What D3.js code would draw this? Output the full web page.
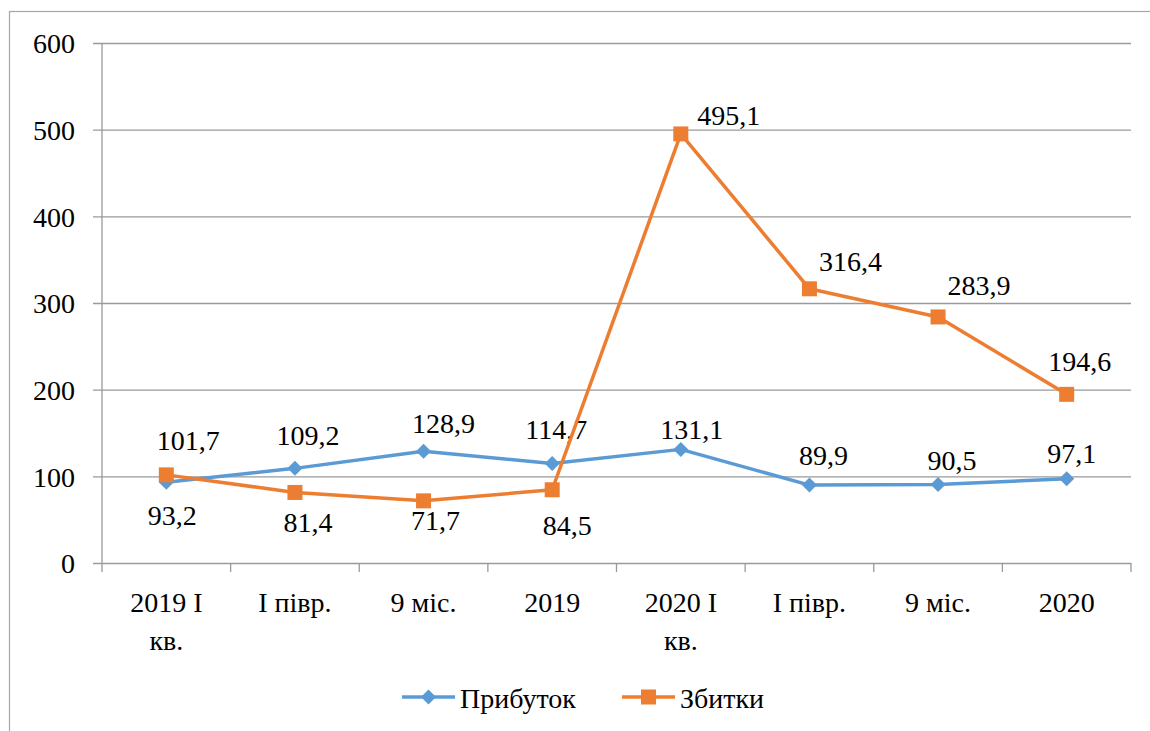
<!DOCTYPE html>
<html>
<head>
<meta charset="utf-8">
<script src="https://cdn.jsdelivr.net/npm/d3@7"></script>
<style>
  html, body { margin: 0; padding: 0; background: #fff; }
  svg { display: block; }
  svg text { font-family: 'Liberation Serif', 'DejaVu Serif', 'Times New Roman', Times, serif !important; fill: #000; }
</style>
</head>
<body>
<svg id="chart" width="1150" height="731"></svg>
<script>
// Category labels (second line shown under the first where present)
const categories = ["2019 I\nкв.", "I півр.", "9 міс.", "2019", "2020 I\nкв.", "I півр.", "9 міс.", "2020"];
// Series values
const profit = [93.2, 109.2, 128.9, 114.7, 131.1, 89.9, 90.5, 97.1];
const losses = [101.7, 81.4, 71.7, 84.5, 495.1, 316.4, 283.9, 194.6];
const seriesNames = ["Прибуток", "Збитки"];
const yTicks = [0, 100, 200, 300, 400, 500, 600];

// Label placement relative to each point (dx, baseline dy)
const profitLabelOffsets = [[6, 43], [13, -23], [20, -18], [4, -25], [11, -10], [14, -20], [14, -15], [5, -16]];
const lossLabelOffsets = [[22, -25], [13, 40], [12, 29], [15, 45], [48, -9], [41, -18], [41, -22], [13, -23]];

const svg = d3.select("#chart");
const plot = { left: 102, right: 1131, top: 43, bottom: 563 };
const gridColor = "#9a9a9a";
const blue = "#5B9BD5", orange = "#ED7D31";
const fontSize = 28;

// outer chart frame (partly outside the visible area)
svg.append("rect")
  .attr("x", 9.5).attr("y", 11.5)
  .attr("width", 1200).attr("height", 800)
  .attr("fill", "none").attr("stroke", "#a6a6a6").attr("stroke-width", 1.2);

const x = d3.scaleBand().domain(d3.range(categories.length)).range([plot.left, plot.right]).padding(0);
const y = d3.scaleLinear().domain([0, 600]).range([plot.bottom, plot.top]);
const cx = i => x(i) + x.bandwidth() / 2;

// horizontal gridlines with outside tick marks
const yAxis = d3.axisLeft(y).tickValues(yTicks).tickSize(plot.right - plot.left + 9).tickFormat(d => d);
const gy = svg.append("g").attr("transform", `translate(${plot.right},0)`).call(yAxis);
gy.attr("font-family", null).attr("font-size", null);
gy.select(".domain").remove();
gy.selectAll(".tick line").attr("stroke", gridColor).attr("stroke-width", 1.3);
gy.selectAll(".tick text")
  .attr("x", -(plot.right - 75)).attr("dy", "0.35em")
  .attr("text-anchor", "end")
  .style("font-size", fontSize + "px");

// vertical axis line
svg.append("line")
  .attr("x1", plot.left).attr("x2", plot.left)
  .attr("y1", plot.top).attr("y2", plot.bottom)
  .attr("stroke", gridColor).attr("stroke-width", 1.3);

// category axis: ticks at band boundaries
const boundaries = d3.range(categories.length + 1).map(i => i === categories.length ? plot.right : x(i));
svg.append("g").selectAll("line").data(boundaries).join("line")
  .attr("x1", d => d).attr("x2", d => d)
  .attr("y1", plot.bottom).attr("y2", plot.bottom + 9)
  .attr("stroke", gridColor).attr("stroke-width", 1.3);

const catText = svg.append("g").selectAll("text").data(categories).join("text")
  .attr("x", (d, i) => cx(i))
  .attr("y", 612)
  .attr("text-anchor", "middle")
  .style("font-size", fontSize + "px");
catText.each(function(d) {
  const lines = d.split("\n");
  const t = d3.select(this);
  lines.forEach((ln, k) => {
    t.append("tspan").attr("x", t.attr("x")).attr("dy", k === 0 ? 0 : 38).text(ln);
  });
});

const line = d3.line().x((d, i) => cx(i)).y(d => y(d));

function drawSeries(values, color, marker, offsets) {
  const g = svg.append("g");
  g.append("path").datum(values)
    .attr("d", line).attr("fill", "none")
    .attr("stroke", color).attr("stroke-width", 3.5).attr("stroke-linejoin", "round");
  g.selectAll("path.m").data(values).join("path").attr("class", "m")
    .attr("d", marker)
    .attr("transform", (d, i) => `translate(${cx(i)},${y(d)})`)
    .attr("fill", color);
  g.selectAll("text").data(values).join("text")
    .attr("x", (d, i) => cx(i) + offsets[i][0])
    .attr("y", (d, i) => y(d) + offsets[i][1])
    .attr("text-anchor", "middle")
    .style("font-size", fontSize + "px")
    .text(d => String(d).replace(".", ","));
}

const diamond = "M0,-7.5L7.5,0L0,7.5L-7.5,0Z";
const square = "M-7.5,-7.5H7.5V7.5H-7.5Z";

drawSeries(profit, blue, diamond, profitLabelOffsets);
drawSeries(losses, orange, square, lossLabelOffsets);

// legend
const legendItems = [
  { name: seriesNames[0], color: blue, marker: diamond, x: 402 },
  { name: seriesNames[1], color: orange, marker: square, x: 622 }
];
const lg = svg.append("g").selectAll("g").data(legendItems).join("g")
  .attr("transform", d => `translate(${d.x},697)`);
lg.append("line").attr("x1", 0).attr("x2", 53).attr("y1", 0).attr("y2", 0)
  .attr("stroke", d => d.color).attr("stroke-width", 3.5);
lg.append("path").attr("d", d => d.marker).attr("transform", "translate(26.5,0)")
  .attr("fill", d => d.color);
lg.append("text").attr("x", 58).attr("y", 11)
  .style("font-size", fontSize + "px")
  .text(d => d.name);
</script>
</body>
</html>
